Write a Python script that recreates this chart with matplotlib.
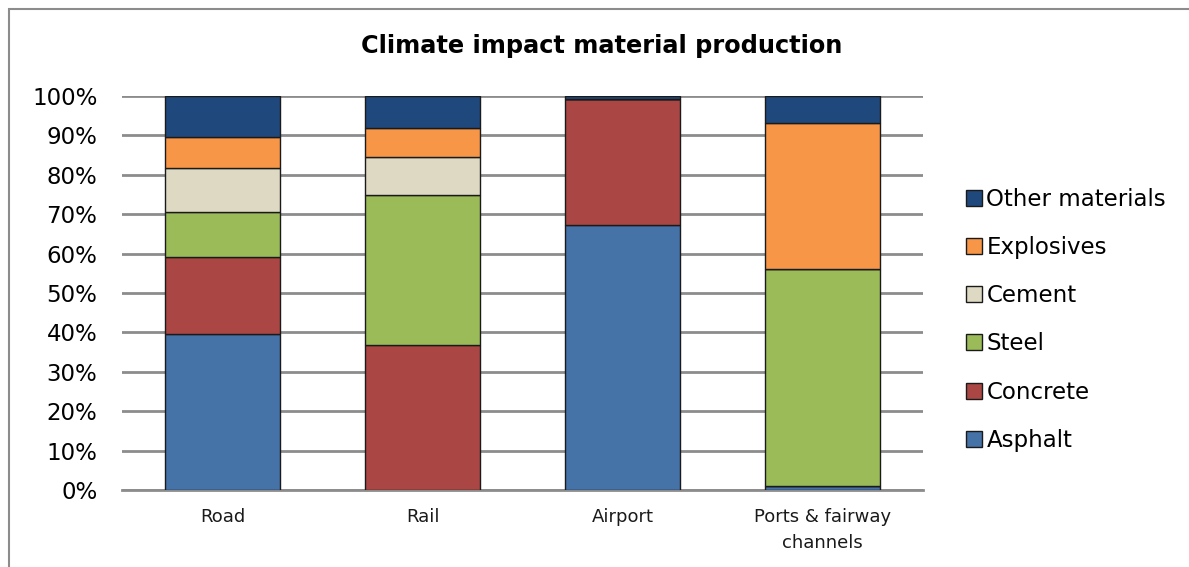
import numpy as np
import matplotlib
matplotlib.use("Agg")
import matplotlib.pyplot as plt
from matplotlib.patches import Rectangle

# categories and stacked shares (%)
categories = ["Road", "Rail", "Airport", "Ports & fairway\nchannels"]
materials = ["Asphalt", "Concrete", "Steel", "Cement", "Explosives", "Other materials"]

asphalt = [39.7, 0.0, 67.3, 1.0]
concrete = [19.4, 36.8, 31.9, 0.0]
steel = [11.4, 38.0, 0.0, 55.1]
cement = [11.2, 9.8, 0.0, 0.0]
explosives = [7.9, 7.3, 0.0, 37.1]
other = [10.4, 8.1, 0.8, 6.8]

colors = ["#4572a7", "#aa4643", "#9bbb59", "#ddd9c3", "#f79646", "#1f497d"]

plt.rcParams['font.family'] = ['DejaVu Sans']

fig = plt.figure(figsize=(11.89, 5.67), dpi=100)
ax = fig.add_axes([0.103, 0.1358, 0.673, 0.6949])

# grey frame around the chart (only top/left visible in the crop)
fig.patches.append(Rectangle((9 / 1189, -0.5), 2.0, 1 - 9 / 567 + 0.5,
                             transform=fig.transFigure, fill=False,
                             edgecolor="#8c8c8c", linewidth=1.5))

x = np.arange(len(categories))
series = [asphalt, concrete, steel, cement, explosives, other]
bottom = np.zeros(len(categories))
handles = []
for name, vals, col in zip(materials, series, colors):
    vals = np.array(vals)
    b = ax.bar(x, vals, bottom=bottom, width=0.575, color=col,
               edgecolor="#1a1a1a", linewidth=1.0, label=name, zorder=3)
    handles.append(b)
    bottom += vals

ax.set_xlim(-0.5, 3.5)
ax.set_ylim(0, 100)
ax.set_yticks(np.arange(0, 101, 10))
ax.set_yticklabels([f"{v}%" for v in range(0, 101, 10)], fontsize=16.5)
ax.set_xticks(x)
ax.set_xticklabels(categories, fontsize=13, color="#1a1a1a", linespacing=1.55)
ax.tick_params(axis="both", length=0)
ax.tick_params(axis="y", pad=18)
ax.tick_params(axis="x", pad=13)

ax.yaxis.grid(True, color="#8c8c8c", linewidth=2, zorder=0)
ax.set_axisbelow(True)
for s in ["top", "right", "left"]:
    ax.spines[s].set_visible(False)
ax.spines["bottom"].set_color("#8c8c8c")
ax.spines["bottom"].set_linewidth(2)

fig.text(602 / 1189, 1 - 46 / 567, "Climate impact material production",
         ha="center", va="center", fontsize=17.3, fontweight="bold")

leg = ax.legend(handles[::-1], materials[::-1], loc="center left",
                bbox_to_anchor=(1.054, 0.432), frameon=False, fontsize=16.5,
                handlelength=0.7, handleheight=0.7, handletextpad=0.2,
                labelspacing=1.1, borderaxespad=0.0, borderpad=0.0)

fig.savefig("out.png", dpi=100)
